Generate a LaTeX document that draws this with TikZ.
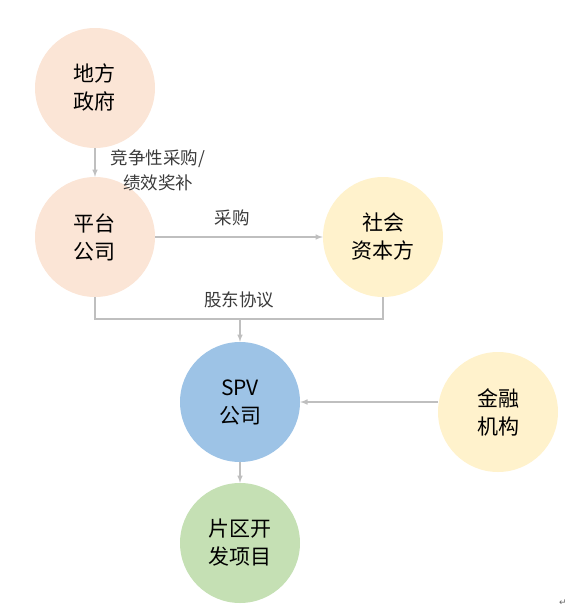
\documentclass[tikz,border=0pt]{standalone}
\usepackage{fontspec}
\setmainfont{Noto Sans CJK SC}
\newfontfamily\symfont{DejaVu Sans}
\usetikzlibrary{arrows}

\definecolor{peach}{HTML}{FBE5D6}
\definecolor{cream}{HTML}{FFF2CC}
\definecolor{skyblue}{HTML}{9DC3E6}
\definecolor{sage}{HTML}{C5E0B4}
\definecolor{linegray}{HTML}{BFBFBF}
\definecolor{textgray}{HTML}{3A3A3A}

\begin{document}
\begin{tikzpicture}[
  x=1pt, y=-1pt,
  party/.style={circle, minimum size=120pt, inner sep=0pt, align=center, font=\fontsize{21}{28}\selectfont, text=black},
  lbl/.style={align=center, font=\fontsize{17.5}{25}\selectfont, text=textgray},
  link/.style={line width=1.5pt, draw=linegray},
  arrow/.style={link,->,>=latex}
]
  \useasboundingbox (0,0) rectangle (571,614);

  \node (dfzf) [party, fill=peach] at (95,88) {地方\\政府};
  \node (ptgs) [party, fill=peach] at (95,237) {平台\\公司};
  \node (shzb) [party, fill=cream] at (383,237) {社会\\资本方};
  \node (spv) [party, fill=skyblue] at (240,402) {SPV\\公司};
  \node (jrjg) [party, fill=cream] at (498,412) {金融\\机构};
  \node (pqkf) [party, fill=sage] at (240,543) {片区开\\发项目};

  \draw [arrow] (dfzf) -- (ptgs);
  \node (jzcg) [lbl] at (158,170) {竞争性采购/\\绩效奖补};

  \draw [arrow] (ptgs) -- (shzb);
  \node (cg) [lbl] at (232,218) {采购};

  \coordinate (gdxy) at (240,319);
  \draw [link] (ptgs.south) |- (gdxy) -| (shzb.south);
  \draw [arrow] (gdxy) -- (spv);
  \node (gd) [lbl] at (239,300) {股东协议};

  \draw [arrow] (jrjg.west |- spv.east) -- (spv.east);
  \draw [arrow] (spv) -- (pqkf);

  \node (mark) [font=\symfont\fontsize{9}{9}\selectfont, text=black!60] at (563,603) {↵};
\end{tikzpicture}
\end{document}
